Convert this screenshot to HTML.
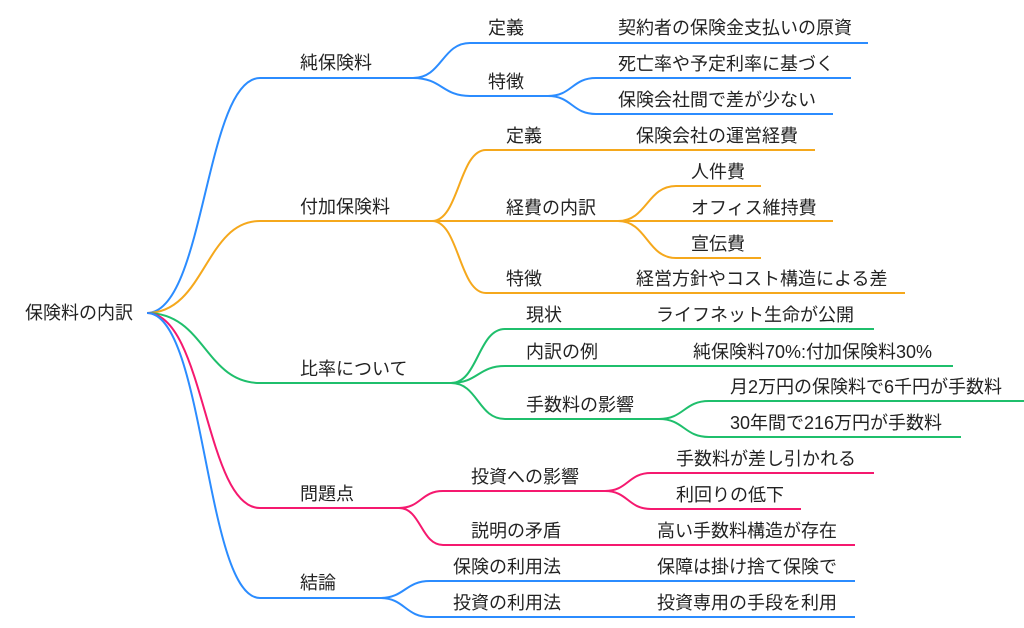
<!DOCTYPE html>
<html><head><meta charset="utf-8"><style>
html,body{margin:0;padding:0;background:#fff;}
svg{display:block;}
text{font-family:"Liberation Sans","Noto Sans CJK JP",sans-serif;font-size:18px;fill:#222;dominant-baseline:central;}
path{fill:none;stroke-width:2;}
</style></head><body>
<svg width="1024" height="628" viewBox="0 0 1024 628" xmlns="http://www.w3.org/2000/svg">
<g>
<path stroke="#2b8cff" d="M147 313 C205 313,205 78,260 78 L413 78"/>
<path stroke="#f5a81c" d="M147 313 C205 313,205 221,260 221 L432 221"/>
<path stroke="#1fbf6c" d="M147 313 C205 313,205 383,260 383 L451 383"/>
<path stroke="#f5196f" d="M147 313 C205 313,205 508,260 508 L399 508"/>
<path stroke="#2b8cff" d="M147 313 C205 313,205 598,260 598 L380 598"/>
</g>
<g stroke="#2b8cff">
<path d="M413 78 C442 78,442 43,470 43 L868 43"/>
<path d="M413 78 C442 78,442 96,470 96 L548 96"/>
<path d="M548 96 C572 96,572 78,596 78 L851 78"/>
<path d="M548 96 C572 96,572 114,596 114 L833 114"/>
</g>
<g stroke="#f5a81c">
<path d="M432 221 C459 221,459 150,486 150 L815 150"/>
<path d="M432 221 L618 221"/>
<path d="M432 221 C459 221,459 293,486 293 L905 293"/>
<path d="M618 221 C647 221,647 186,676 186 L761 186"/>
<path d="M618 221 L833 221"/>
<path d="M618 221 C647 221,647 258,676 258 L761 258"/>
</g>
<g stroke="#1fbf6c">
<path d="M451 383 C478 383,478 329,505 329 L874 329"/>
<path d="M451 383 C478 383,478 366,505 366 L953 366"/>
<path d="M451 383 C478 383,478 419,505 419 L659 419"/>
<path d="M659 419 C684 419,684 401,709 401 L1024 401"/>
<path d="M659 419 C684 419,684 437,709 437 L961 437"/>
</g>
<g stroke="#f5196f">
<path d="M399 508 C421 508,421 491,443 491 L605 491"/>
<path d="M399 508 C421 508,421 545,443 545 L855 545"/>
<path d="M605 491 C628 491,628 473,651 473 L874 473"/>
<path d="M605 491 C628 491,628 509,651 509 L801 509"/>
</g>
<g stroke="#2b8cff">
<path d="M380 598 C405 598,405 581,430 581 L855 581"/>
<path d="M380 598 C405 598,405 617,430 617 L855 617"/>
</g>
<text x="25" y="313">保険料の内訳</text>
<text x="300" y="63">純保険料</text>
<text x="300" y="207">付加保険料</text>
<text x="300" y="369">比率について</text>
<text x="300" y="494">問題点</text>
<text x="300" y="583">結論</text>

<text x="488" y="28">定義</text>
<text x="618" y="28">契約者の保険金支払いの原資</text>
<text x="488" y="82">特徴</text>
<text x="618" y="64">死亡率や予定利率に基づく</text>
<text x="618" y="100">保険会社間で差が少ない</text>

<text x="506" y="136">定義</text>
<text x="636" y="136">保険会社の運営経費</text>
<text x="506" y="208">経費の内訳</text>
<text x="691" y="172">人件費</text>
<text x="691" y="208">オフィス維持費</text>
<text x="691" y="244">宣伝費</text>
<text x="506" y="279">特徴</text>
<text x="636" y="279">経営方針やコスト構造による差</text>

<text x="526" y="315">現状</text>
<text x="656" y="315">ライフネット生命が公開</text>
<text x="526" y="352">内訳の例</text>
<text x="693" y="352">純保険料70%:付加保険料30%</text>
<text x="526" y="405">手数料の影響</text>
<text x="730" y="387">月2万円の保険料で6千円が手数料</text>
<text x="730" y="423">30年間で216万円が手数料</text>

<text x="471" y="477">投資への影響</text>
<text x="676" y="459">手数料が差し引かれる</text>
<text x="676" y="495">利回りの低下</text>
<text x="471" y="531">説明の矛盾</text>
<text x="657" y="531">高い手数料構造が存在</text>

<text x="453" y="567">保険の利用法</text>
<text x="657" y="567">保障は掛け捨て保険で</text>
<text x="453" y="603">投資の利用法</text>
<text x="657" y="603">投資専用の手段を利用</text>
</svg>
</body></html>
